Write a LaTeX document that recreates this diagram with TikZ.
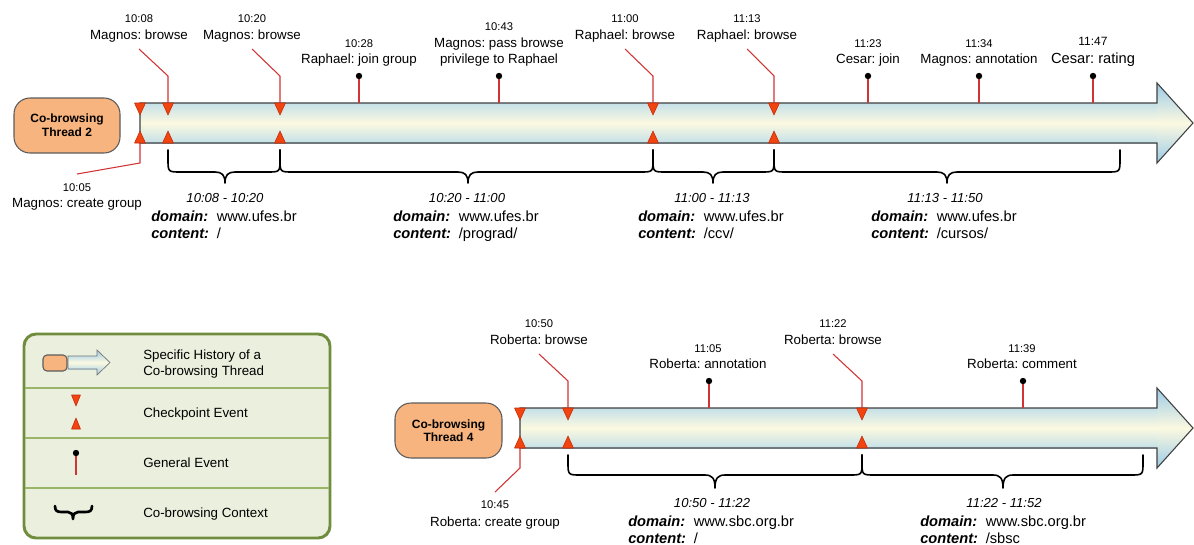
\documentclass[tikz,border=0pt]{standalone}
\usepackage{fontspec}
\setmainfont{Liberation Sans}
\usetikzlibrary{calc}
\frenchspacing

\definecolor{cpfill}{HTML}{F2440F}
\definecolor{cpline}{HTML}{C02A0A}
\definecolor{evline}{HTML}{D03434}
\definecolor{boxfill}{HTML}{F7B47E}
\definecolor{boxline}{HTML}{5C5C5C}
\definecolor{tubeedge}{HTML}{C4E0E8}
\definecolor{tubemid}{HTML}{FCF9E0}
\definecolor{headedge}{HTML}{9CCBE8}
\definecolor{legline}{HTML}{6F8D3C}
\definecolor{legfill}{HTML}{EBEFDD}
\definecolor{legsep}{HTML}{9AB46A}

\tikzset{
  tlabel/.style={anchor=base, inner sep=0pt, font=\fontsize{8.4}{10}\selectfont},
  dlabel/.style={anchor=base, inner sep=0pt, font=\fontsize{10}{12}\selectfont},
  rangetext/.style={anchor=base, inner sep=0pt, font=\fontsize{9.8}{12}\selectfont\itshape},
  keytext/.style={anchor=base west, inner sep=0pt, font=\fontsize{11}{13}\selectfont\bfseries\itshape},
  valtext/.style={anchor=base west, inner sep=0pt, font=\fontsize{11}{13}\selectfont},
  threadtext/.style={anchor=base, inner sep=0pt, font=\fontsize{9}{11}\selectfont\bfseries},
  legtext/.style={anchor=base west, inner sep=0pt, font=\fontsize{10}{12}\selectfont},
  threadbox/.style={fill=boxfill, draw=boxline, line width=0.8pt},
  tubeline/.style={draw=black!75, line width=0.8pt, line join=miter},
  cpmark/.style={fill=cpfill, draw=cpline, line width=0.4pt, line join=round},
  callout/.style={draw=evline, line width=0.8pt},
  evstem/.style={draw=evline, line width=0.8pt},
  evdot/.style={fill=black},
  ctxline/.style={draw=black, line width=1.2pt, line cap=round, line join=round},
}

% time + description above/below an event
\newcommand\evtext[6]{%
  \node[tlabel] (#1-time) at (#2,#3) {#5};
  \node[dlabel] (#1-desc) at (#2,#4) {#6};
}
% general event: stem with a dot
\newcommand\genevent[4]{%
  \coordinate (#1-dot) at (#2,#3);
  \coordinate (#1-foot) at (#2,#4);
  \draw[evstem] (#1-foot) -- (#1-dot);
  \fill[evdot] (#1-dot) circle (2.4pt);
}
% checkpoint: a pair of triangles on the two edges of the tube
\newcommand\checkpt[4]{%
  \coordinate (#1-top) at (#2,#3);
  \coordinate (#1-bot) at (#2,#4);
  \filldraw[cpmark] (#2-5.5,#3) -- (#2+5.5,#3) -- (#2,#3+12) -- cycle;
  \filldraw[cpmark] (#2-5.5,#4) -- (#2+5.5,#4) -- (#2,#4-12) -- cycle;
}
% curly brace for a co-browsing context: x1, x2, tip x, top y, level y, tip y
\newcommand\ctxbrace[7]{%
  \coordinate (#1-a) at (#2,#5);
  \coordinate (#1-b) at (#3,#5);
  \coordinate (#1-tip) at (#4,#7);
  \draw[ctxline] (#1-a) -- (#2,#6-13) .. controls (#2,#6) .. (#2+13,#6)
    -- (#4-10,#6) .. controls (#4-3,#6) and (#4,#6+3) .. (#1-tip)
    .. controls (#4,#6+3) and (#4+3,#6) .. (#4+10,#6)
    -- (#3-13,#6) .. controls (#3,#6) .. (#3,#6-13) -- (#1-b);
}
% text of a context: time range, domain and content
\newcommand\ctxtext[7]{%
  \node[rangetext] (#1-range) at (#2,#3) {#4};
  \node[keytext] (#1-dkey) at (#5,#3+19) {domain:};
  \node[valtext] (#1-dval) at (#5+65.5,#3+19) {#6};
  \node[keytext] (#1-ckey) at (#5,#3+36) {content:};
  \node[valtext] (#1-cval) at (#5+65.5,#3+36) {#7};
}
% tube with arrow head: left x, top y, bottom y, head x, head top, head bottom, tip x
\newcommand\tube[7]{%
  \shade[top color=tubeedge, bottom color=tubeedge, middle color=tubemid]
    (#1,#2) rectangle (#4,#3);
  \shade[top color=headedge, bottom color=headedge, middle color=tubemid]
    (#4,#5) -- (#7,{(#2+#3)/2}) -- (#4,#6) -- cycle;
  \draw[tubeline] (#1,#2) -- (#4,#2) -- (#4,#5) -- (#7,{(#2+#3)/2})
    -- (#4,#6) -- (#4,#3) -- (#1,#3) -- cycle;
}

\begin{document}
\begin{tikzpicture}[x=0.75pt, y=-0.75pt]
\useasboundingbox (0,0) rectangle (1194,544);

%% ---------------- Thread 2 ----------------
\draw[threadbox, rounded corners=12pt] (14,98) rectangle (120,153);
\node[threadtext] (t2a) at (67,122) {Co-browsing};
\node[threadtext] (t2b) at (67,136) {Thread 2};

\tube{140}{103}{143}{1157}{83}{163}{1193}

% general events
\genevent{g1}{359}{76}{103}
\genevent{g2}{499}{76}{103}
\genevent{g3}{868}{76}{103}
\genevent{g4}{979}{76}{103}
\genevent{g5}{1093}{76}{103}
\evtext{g1}{359}{47}{63}{10:28}{Raphael: join group}
\node[tlabel] (g2-time) at (499,30) {10:43};
\node[dlabel] (g2-desc) at (499,47) {Magnos: pass browse};
\node[dlabel] (g2-desc2) at (499,63) {privilege to Raphael};
\evtext{g3}{868}{47}{63}{11:23}{Cesar: join}
\evtext{g4}{979}{47}{63}{11:34}{Magnos: annotation}
\node[tlabel, font=\fontsize{9}{11}\selectfont] (g5-time) at (1093,45) {11:47};
\node[dlabel, font=\fontsize{11}{13}\selectfont] (g5-desc) at (1093,63) {Cesar: rating};

% checkpoint callouts
\coordinate (c0-lab) at (77,174);  \coordinate (c0-bend) at (140,163);
\coordinate (c1-lab) at (139,49);  \coordinate (c1-bend) at (168,76);
\coordinate (c2-lab) at (252,49);  \coordinate (c2-bend) at (280,76);
\coordinate (c3-lab) at (625,49);  \coordinate (c3-bend) at (653,76);
\coordinate (c4-lab) at (747,49);  \coordinate (c4-bend) at (774,76);
\draw[callout] (c0-lab) -- (c0-bend) -- (140,143);
\draw[callout] (c1-lab) -- (c1-bend) -- (168,103);
\draw[callout] (c2-lab) -- (c2-bend) -- (280,103);
\draw[callout] (c3-lab) -- (c3-bend) -- (653,103);
\draw[callout] (c4-lab) -- (c4-bend) -- (774,103);

\checkpt{c0}{140}{103}{143}
\checkpt{c1}{168}{103}{143}
\checkpt{c2}{280}{103}{143}
\checkpt{c3}{653}{103}{143}
\checkpt{c4}{774}{103}{143}

\evtext{c0}{77}{191}{207}{10:05}{Magnos: create group}
\evtext{c1}{139}{22}{39}{10:08}{Magnos: browse}
\evtext{c2}{252}{22}{39}{10:20}{Magnos: browse}
\evtext{c3}{625}{22}{39}{11:00}{Raphael: browse}
\evtext{c4}{747}{22}{39}{11:13}{Raphael: browse}

% contexts
\ctxbrace{k1}{168}{280}{225}{150}{172}{183}
\ctxbrace{k2}{280}{653}{468}{150}{172}{183}
\ctxbrace{k3}{653}{774}{713}{150}{172}{183}
\ctxbrace{k4}{774}{1120}{947}{150}{172}{183}
\ctxtext{k1}{225}{202}{10:08 - 10:20}{151}{www.ufes.br}{/}
\ctxtext{k2}{467}{202}{10:20 - 11:00}{393}{www.ufes.br}{/prograd/}
\ctxtext{k3}{712}{202}{11:00 - 11:13}{638}{www.ufes.br}{/ccv/}
\ctxtext{k4}{945}{202}{11:13 - 11:50}{871}{www.ufes.br}{/cursos/}

%% ---------------- Thread 4 ----------------
\draw[threadbox, rounded corners=12pt] (395,403) rectangle (502,458);
\node[threadtext] (t4a) at (448.5,428) {Co-browsing};
\node[threadtext] (t4b) at (448.5,441) {Thread 4};

\tube{520}{408}{448}{1157}{388}{468}{1193}

\genevent{h1}{709}{381}{408}
\genevent{h2}{1023}{381}{408}
\evtext{h1}{708}{352}{368}{11:05}{Roberta: annotation}
\evtext{h2}{1022}{352}{368}{11:39}{Roberta: comment}

\coordinate (d0-lab) at (495,492); \coordinate (d0-bend) at (520,468);
\coordinate (d1-lab) at (539,354); \coordinate (d1-bend) at (568,381);
\coordinate (d2-lab) at (833,354); \coordinate (d2-bend) at (862,381);
\draw[callout] (d0-lab) -- (d0-bend) -- (520,448);
\draw[callout] (d1-lab) -- (d1-bend) -- (568,408);
\draw[callout] (d2-lab) -- (d2-bend) -- (862,408);

\checkpt{d0}{520}{408}{448}
\checkpt{d1}{568}{408}{448}
\checkpt{d2}{862}{408}{448}

\evtext{d0}{495}{508}{526}{10:45}{Roberta: create group}
\evtext{d1}{539}{327}{344}{10:50}{Roberta: browse}
\evtext{d2}{833}{327}{344}{11:22}{Roberta: browse}

\ctxbrace{m1}{568}{862}{715}{455}{475}{488}
\ctxbrace{m2}{862}{1143}{1003}{455}{475}{488}
\ctxtext{m1}{712}{507}{10:50 - 11:22}{628}{www.sbc.org.br}{/}
\ctxtext{m2}{1004}{507}{11:22 - 11:52}{920}{www.sbc.org.br}{/sbsc}

%% ---------------- Legend ----------------
\draw[draw=legline, fill=legfill, line width=2.2pt, rounded corners=9pt]
  (24,334) rectangle (330,538);
\draw[legsep, line width=0.8pt] (25,388) -- (329,388);
\draw[legsep, line width=0.8pt] (25,438) -- (329,438);
\draw[legsep, line width=0.8pt] (25,488) -- (329,488);

% thread symbol
\draw[threadbox, rounded corners=3pt] (43,355) rectangle (67,371);
\shade[top color=tubeedge, bottom color=tubeedge, middle color=tubemid]
  (68,356) rectangle (97,369);
\shade[top color=headedge, bottom color=headedge, middle color=tubemid]
  (97,350) -- (110,362.5) -- (97,375) -- cycle;
\draw[draw=black!55, line width=0.5pt] (68,356) -- (97,356) -- (97,350) -- (110,362.5)
  -- (97,375) -- (97,369) -- (68,369) -- cycle;
\node[legtext] (l1a) at (143,359) {Specific History of a};
\node[legtext] (l1b) at (143,375) {Co-browsing Thread};

% checkpoint symbol
\coordinate (lc-top) at (76,395);
\coordinate (lc-bot) at (76,429);
\filldraw[cpmark] (71.5,395) -- (80.5,395) -- (76,406) -- cycle;
\filldraw[cpmark] (71.5,429) -- (80.5,429) -- (76,418) -- cycle;
\node[legtext] (l2) at (143,417) {Checkpoint Event};

% general event symbol
\genevent{lg}{76}{453}{475}
\node[legtext] (l3) at (143,467) {General Event};

% context symbol
\coordinate (lb-a) at (55,506);
\coordinate (lb-b) at (92,506);
\coordinate (lb-tip) at (73,519);
\draw[ctxline, line width=2pt] (lb-a) .. controls (55,511) and (57,512) .. (62,512)
  -- (68,512) .. controls (71,512) and (73,514) .. (lb-tip)
  .. controls (73,514) and (75,512) .. (78,512) -- (85,512)
  .. controls (90,512) and (92,511) .. (lb-b);
\node[legtext] (l4) at (143,517) {Co-browsing Context};

\end{tikzpicture}
\end{document}
